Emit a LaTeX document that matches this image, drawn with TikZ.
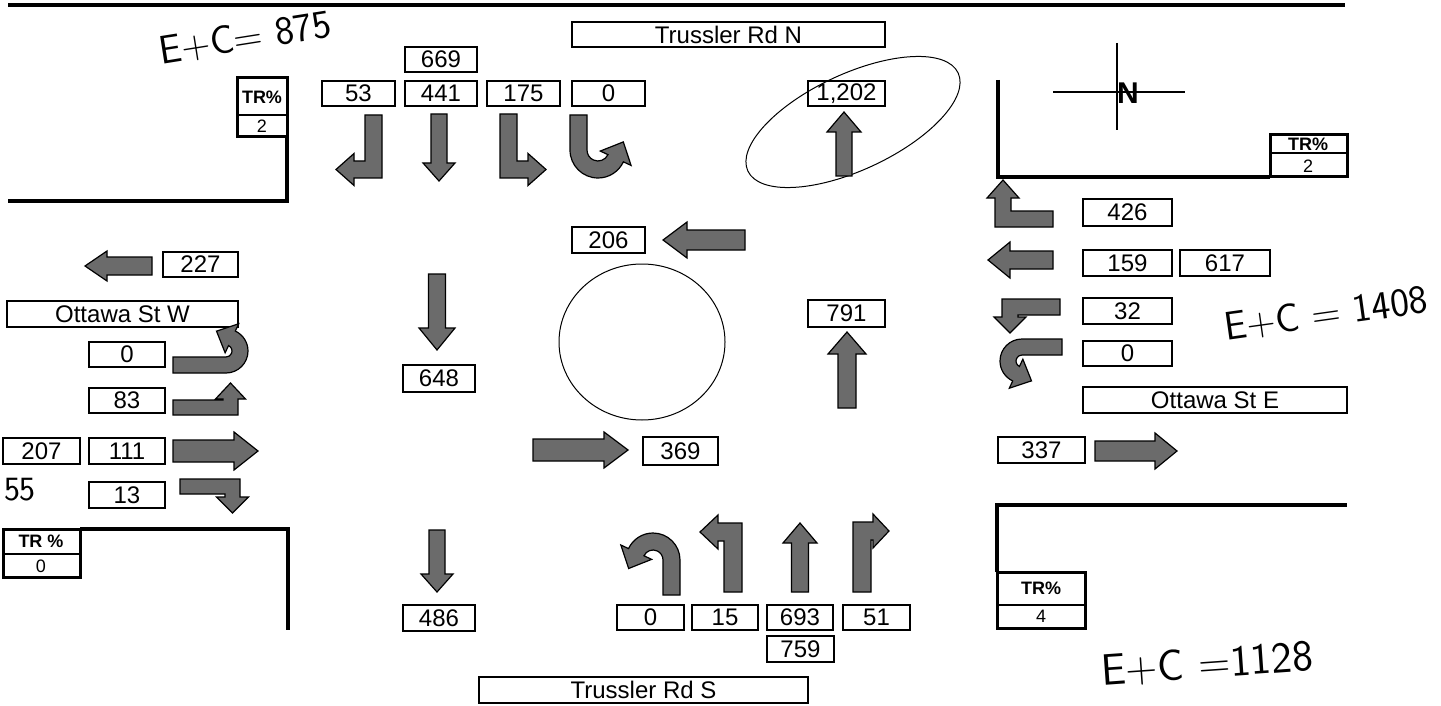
\documentclass[tikz,border=0pt]{standalone}
\usepackage{fontspec}
\setmainfont{Liberation Sans}
\usetikzlibrary{calc}
\tikzset{
  numbox/.style={draw, line width=1.5pt, inner sep=0pt, outer sep=0pt, font=\fontsize{24}{25}\selectfont},
  trframe/.style={draw, line width=3pt},
  trlabel/.style={inner sep=0pt, font=\bfseries\fontsize{18}{18}\selectfont},
  trval/.style={inner sep=0pt, font=\fontsize{18}{18}\selectfont},
  arrowshape/.style={fill=black!58, draw=black, line width=1.2pt, line join=miter},
  roadline/.style={line width=4pt},
  handw/.style={inner sep=0pt, font=\sffamily\fontsize{40}{40}\selectfont},
}
% box: name, x1, y1, x2, y2, text
\newcommand{\bx}[6]{\node[numbox, minimum width={#4pt-#2pt}, minimum height={#5pt-#3pt}] (#1) at ({(#2+#4)/2},{(#3+#5)/2}) {#6};}
% straight arrow pointing +x: opts, L, w, H, h
\newcommand{\StrArrow}[5]{\filldraw[arrowshape,#1] (0,{-#3/2}) -- ({#2-#5},{-#3/2}) -- ({#2-#5},{-#4/2}) -- (#2,0) -- ({#2-#5},{#4/2}) -- ({#2-#5},{#3/2}) -- (0,{#3/2}) -- cycle;}
% turn arrow (stem up, turning left): opts, a, b, w, H, h
\newcommand{\TurnArrow}[6]{\filldraw[arrowshape,#1] (0,0) -- (0,-#2) -- ({-#3+#6},-#2) -- ({-#3+#6},{-#2+#4/2-#5/2}) -- (-#3,{-#2+#4/2}) -- ({-#3+#6},{-#2+#4/2+#5/2}) -- ({-#3+#6},{-#2+#4}) -- (-#4,{-#2+#4}) -- (-#4,0) -- cycle;}
% U-turn arrow (stem up, arcing left): opts, a, R, w
\newcommand{\UArrow}[4]{%
  \pgfmathsetmacro\ua{#2}\pgfmathsetmacro\uR{#3}\pgfmathsetmacro\uw{#4}%
  \pgfmathsetmacro\uri{\uR-\uw}\pgfmathsetmacro\uf{\uw/2}\pgfmathsetmacro\uh{\uw+1}%
  \pgfmathsetmacro\ut{155}%
  \filldraw[arrowshape,#1] (0,0) -- (0,-\ua) arc[start angle=0, end angle=\ut, radius=\uR pt]
   -- ({-\uR+(\uR+\uf)*cos(\ut)},{-\ua-(\uR+\uf)*sin(\ut)})
   -- ({-\uR+(\uR-\uw/2)*cos(\ut)+\uh*cos(\ut+90)},{-\ua-(\uR-\uw/2)*sin(\ut)-\uh*sin(\ut+90)})
   -- ({-\uR+(\uri-\uf)*cos(\ut)},{-\ua-(\uri-\uf)*sin(\ut)})
   -- ({-\uR+\uri*cos(\ut)},{-\ua-\uri*sin(\ut)})
   arc[start angle=\ut, end angle=0, radius=\uri pt] -- (-\uw,0) -- cycle;}
\begin{document}
\begin{tikzpicture}[x=1pt,y=-1pt]
\useasboundingbox[fill=white] (0,0) rectangle (1441,706);

% top border line
\draw[roadline] (8,5) -- (1345,5);

% ---------- handwritten notes ----------
\node[handw, rotate=9] (hw1) at (245,38) {E+C= 875};
\node[handw, rotate=8, font=\sffamily\fontsize{40}{40}\selectfont] (hw2) at (1326,314) {E+C = 1408};
\node[handw, rotate=4, font=\sffamily\fontsize{44}{44}\selectfont] (hw3) at (1207,664) {E+C =1128};
\node[handw, font=\sffamily\fontsize{34}{34}\selectfont] (hw4) at (20,490) {55};
\draw[line width=1pt, rotate around={25:(853,122)}] (853,122) ellipse [x radius=116pt, y radius=48pt];

% ---------- NW corner ----------
\draw[roadline] (287,137) -- (287,201) -- (8,201);
\draw[trframe] (237,78) rectangle (287,137);
\draw[line width=1.5pt] (237,115) -- (287,115);
\node[trlabel] (trnwl) at (262,97) {TR\%};
\node[trval] (trnwv) at (262,126) {2};

% ---------- north approach ----------
\bx{rdn}{572}{22}{885}{47}{Trussler Rd N}
\bx{n669}{405}{47}{477}{72}{669}
\bx{n53}{322}{81}{395}{106}{53}
\bx{n441}{405}{81}{477}{106}{441}
\bx{n175}{487}{81}{560}{106}{175}
\bx{n0}{572}{81}{645}{106}{0}
\bx{n1202}{808}{81}{885}{106}{1,202}
\TurnArrow{shift={(382,115)},rotate=180,xscale=-1}{63}{46}{17}{32}{18}
\StrArrow{shift={(439,114)},rotate=-90}{67}{16}{32}{18}
\TurnArrow{shift={(500,114)},rotate=180}{64}{46}{17}{32}{18}
\UArrow{shift={(570,115)},rotate=180}{35}{28}{17}
\StrArrow{shift={(844,176)},rotate=90}{64}{16}{34}{20}

% ---------- NE corner ----------
\draw[line width=1.2pt] (1117,43) -- (1117,130);
\draw[line width=1.2pt] (1053,92) -- (1185,92);
\node[inner sep=0pt, font=\bfseries\fontsize{30}{30}\selectfont] (north) at (1128,93) {N};
\draw[roadline] (998,80) -- (998,177) -- (1270,177);
\draw[trframe] (1270,135) rectangle (1347,177);
\draw[line width=1.5pt] (1270,153) -- (1347,153);
\node[trlabel] (trnel) at (1308,144) {TR\%};
\node[trval] (trnev) at (1308,166) {2};

% ---------- east approach ----------
\TurnArrow{shift={(1053,227)},rotate=90,xscale=-1}{58}{47}{16}{32}{18}
\bx{e426}{1083}{199}{1172}{226}{426}
\StrArrow{shift={(1053,260)},rotate=180}{65}{18}{36}{22}
\bx{e159}{1083}{250}{1172}{276}{159}
\bx{e617}{1180}{250}{1270}{276}{617}
\TurnArrow{shift={(1060,299)},rotate=90}{58}{34}{16}{32}{16}
\bx{e32}{1083}{298}{1172}{324}{32}
\UArrow{shift={(1062,339)},rotate=90}{40}{22}{16}
\bx{e0}{1083}{341}{1172}{366}{0}
\bx{rde}{1083}{387}{1347}{413}{Ottawa St E}
\bx{e337}{998}{437}{1085}{463}{337}
\StrArrow{shift={(1095,451)}}{82}{20}{36}{22}

% ---------- west approach ----------
\StrArrow{shift={(152,266)},rotate=180}{67}{18}{30}{22}
\bx{w227}{163}{252}{238}{277}{227}
\bx{rdw}{7}{301}{238}{327}{Ottawa St W}
\bx{w0}{89}{342}{165}{367}{0}
\UArrow{shift={(173,373)},rotate=-90}{53}{22}{16}
\bx{w83}{89}{388}{165}{413}{83}
\TurnArrow{shift={(173,415)},rotate=-90}{65}{32}{15}{30}{16}
\bx{w207}{3}{438}{80}{464}{207}
\bx{w111}{89}{438}{165}{464}{111}
\StrArrow{shift={(173,451)}}{85}{22}{38}{24}
\bx{w13}{89}{482}{165}{508}{13}
\TurnArrow{shift={(180,479)},rotate=-90,xscale=-1}{60}{34}{15}{32}{16}

% ---------- SW corner ----------
\draw[roadline] (80,529) -- (288,529) -- (288,630);
\draw[trframe] (3,529) rectangle (80,577);
\draw[line width=1.5pt] (3,554) -- (80,554);
\node[trlabel] (trswl) at (41,541) {TR \%};
\node[trval] (trswv) at (41,566) {0};

% ---------- centre ----------
\bx{c206}{572}{227}{645}{253}{206}
\StrArrow{shift={(745,240)},rotate=180}{82}{20}{36}{24}
\StrArrow{shift={(437,274)},rotate=-90}{76}{17}{36}{22}
\bx{c648}{403}{365}{475}{392}{648}
\draw[line width=1pt] (642,342) ellipse [x radius=83pt, y radius=78pt];
\node[inner sep=0pt, minimum width=166pt, minimum height=156pt] (rab) at (642,342) {};
\StrArrow{shift={(533,450)}}{95}{22}{36}{24}
\bx{c369}{643}{437}{718}{465}{369}
\bx{c791}{808}{300}{885}{327}{791}
\StrArrow{shift={(847,408)},rotate=90}{76}{18}{38}{22}

% ---------- south approach ----------
\StrArrow{shift={(437,530)},rotate=-90}{62}{16}{32}{18}
\bx{s486}{403}{605}{475}{631}{486}
\UArrow{shift={(680,595)}}{35}{27}{17}
\TurnArrow{shift={(742,592)}}{69}{42}{18}{34}{18}
\StrArrow{shift={(800,592)},rotate=90}{69}{17}{34}{20}
\TurnArrow{shift={(853,592)},xscale=-1}{70}{36}{18}{34}{16}
\bx{s0}{617}{605}{684}{630}{0}
\bx{s15}{692}{605}{758}{630}{15}
\bx{s693}{767}{605}{833}{630}{693}
\bx{s51}{843}{605}{910}{630}{51}
\bx{s759}{767}{636}{834}{662}{759}
\bx{rds}{479}{677}{808}{703}{Trussler Rd S}

% ---------- SE corner ----------
\draw[roadline] (997,572) -- (997,505) -- (1347,505);
\draw[trframe] (997,572) rectangle (1085,628);
\draw[line width=1.5pt] (997,605) -- (1085,605);
\node[trlabel] (trsel) at (1041,588) {TR\%};
\node[trval] (trsev) at (1041,616) {4};
\end{tikzpicture}
\end{document}
